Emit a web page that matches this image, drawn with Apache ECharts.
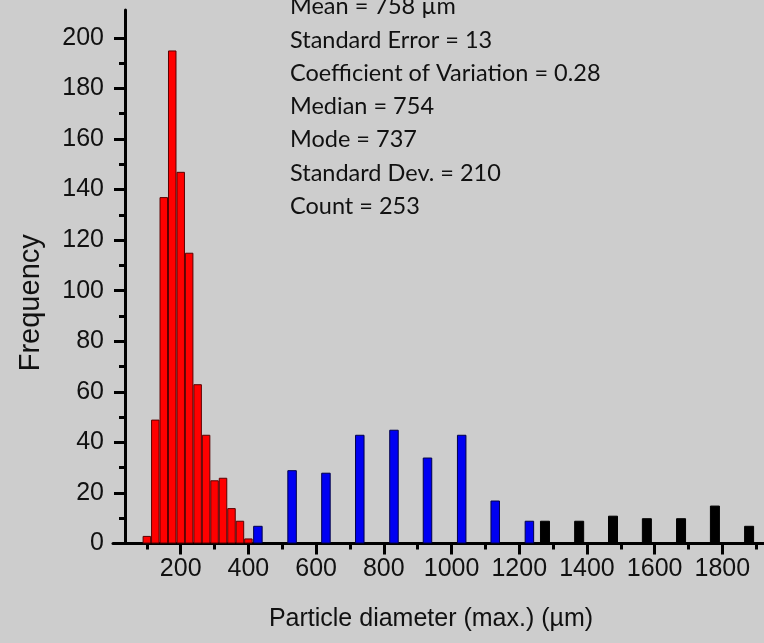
<!DOCTYPE html>
<html>
<head>
<meta charset="utf-8">
<script src="https://cdn.jsdelivr.net/npm/echarts@6/dist/echarts.min.js"></script>
<style>
html,body{margin:0;padding:0;background:#cdcdcd;}
#chart{width:764px;height:643px;}
</style>
</head>
<body>
<div id="chart"></div>
<script>
// Data
const redX = [100, 125, 150, 175, 200, 225, 250, 275, 300, 325, 350, 375, 400];
const redY = [3, 49, 137, 195, 147, 115, 63, 43, 25, 26, 14, 9, 2];
const blueX = [428, 529, 629, 729, 830, 929, 1030, 1129, 1230];
const blueY = [7, 29, 28, 43, 45, 34, 43, 17, 9];
const blackX = [1276, 1377, 1477, 1577, 1678, 1778, 1879];
const blackY = [9, 9, 11, 10, 10, 15, 7];

const xLabels = [200, 400, 600, 800, 1000, 1200, 1400, 1600, 1800];
const xMajorTicks = [200, 400, 600, 800, 1000, 1200, 1400, 1600, 1800];
const xMinorTicks = [100, 300, 500, 700, 900, 1100, 1300, 1500, 1700, 1900];
const yLabels = [0, 20, 40, 60, 80, 100, 120, 140, 160, 180, 200];
const yMinorTicks = [10, 30, 50, 70, 90, 110, 130, 150, 170, 190];

const statsLines = [
  'Mean = 758 \u00b5m',
  'Standard Error = 13',
  'Coefficient of Variation = 0.28',
  'Median = 754',
  'Mode = 737',
  'Standard Dev. = 210',
  'Count = 253'
];

const pair = (xs, ys) => xs.map((x, i) => [x, ys[i]]);
const plain = v => String(v);

const chart = echarts.init(document.getElementById('chart'), null, {renderer: 'canvas'});

const labelFont = {fontFamily: '"Liberation Sans", Arial, sans-serif', fontSize: 25, color: '#111'};
const xBase = {
  type: 'value', min: 0, max: 1923, gridIndex: 0, position: 'bottom',
  splitLine: {show: false}
};

const option = {
  backgroundColor: '#cdcdcd',
  animation: false,
  grid: {left: 113, right: 0, top: 10, bottom: 99.5, containLabel: false},
  xAxis: [
    Object.assign({}, xBase, {
      name: 'Particle diameter (max.) (\u00b5m)',
      nameLocation: 'middle',
      nameGap: 63,
      nameTextStyle: {fontFamily: '"Liberation Sans", Arial, sans-serif', fontSize: 25, color: '#111', padding: [0, 15, 0, 0]},
      axisLine: {show: true, lineStyle: {color: '#000', width: 3}},
      axisTick: {show: true, length: 11, lineStyle: {color: '#000', width: 3}, customValues: xMajorTicks},
      axisLabel: Object.assign({show: true, margin: 13, customValues: xLabels, formatter: plain}, labelFont)
    }),
    Object.assign({}, xBase, {
      axisLine: {show: false},
      axisTick: {show: true, length: 6, lineStyle: {color: '#000', width: 3}, customValues: xMinorTicks},
      axisLabel: {show: false}
    }),
    Object.assign({}, xBase, {show: false})
  ],
  yAxis: [
    {
      type: 'value', min: 0, max: 211, interval: 20, offset: -12,
      name: 'Frequency',
      nameLocation: 'middle',
      nameGap: 80,
      nameTextStyle: {fontFamily: '"Liberation Sans", Arial, sans-serif', fontSize: 29, color: '#111', padding: [0, 52, 0, 0]},
      splitLine: {show: false},
      axisLine: {show: true, lineStyle: {color: '#000', width: 3}},
      axisTick: {show: true, length: 11, lineStyle: {color: '#000', width: 3}, customValues: yLabels},
      axisLabel: Object.assign({show: true, margin: 21, customValues: yLabels, formatter: plain}, labelFont)
    },
    {
      type: 'value', min: 0, max: 211, interval: 20, offset: -12, position: 'left',
      splitLine: {show: false},
      axisLine: {show: false},
      axisTick: {show: true, length: 6, lineStyle: {color: '#000', width: 3}, customValues: yMinorTicks},
      axisLabel: {show: false}
    }
  ],
  series: [
    {
      type: 'bar', xAxisIndex: 0, yAxisIndex: 0,
      data: pair(redX, redY),
      barWidth: 8.5,
      itemStyle: {color: '#ff0000', borderColor: '#5a0000', borderWidth: 1}
    },
    {
      type: 'bar', xAxisIndex: 1, yAxisIndex: 0,
      data: pair(blueX, blueY),
      barWidth: 9.5,
      itemStyle: {color: '#0000f2', borderColor: '#00004a', borderWidth: 1}
    },
    {
      type: 'bar', xAxisIndex: 2, yAxisIndex: 0,
      data: pair(blackX, blackY),
      barWidth: 10,
      itemStyle: {color: '#000000', borderColor: '#000000', borderWidth: 1}
    }
  ],
  graphic: [
    {
      type: 'text', left: 290, top: -10, z: 10,
      style: {
        text: statsLines.join('\n'),
        fontFamily: 'Lato, "Open Sans", sans-serif',
        fontSize: 23.5,
        lineHeight: 33.3,
        fill: '#111'
      }
    }
  ]
};

chart.setOption(option);
</script>
</body>
</html>
